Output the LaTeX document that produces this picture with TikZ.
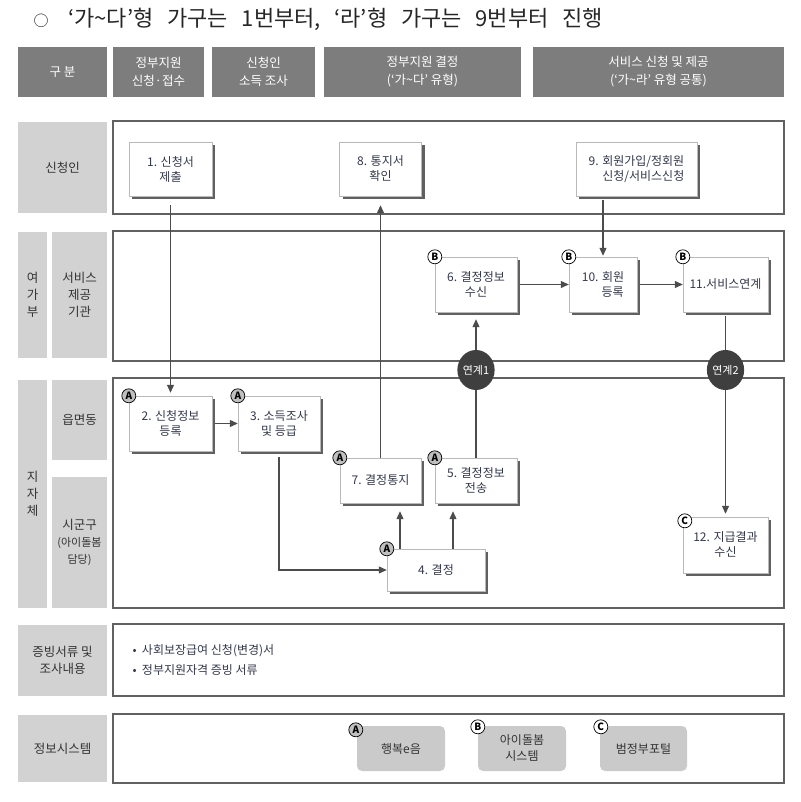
\documentclass[tikz,border=0pt]{standalone}
\usepackage{fontspec}
\setmainfont{Noto Sans CJK KR}
\newfontfamily\titlefont[WordSpace=2.8]{Noto Sans CJK KR}
\usepackage{xcolor}
\usepackage{tikz}
\usetikzlibrary{arrows.meta}
\usetikzlibrary{shapes.geometric}
\usetikzlibrary{shadows}
\definecolor{headgray}{HTML}{7D7D7D}
\definecolor{labelgray}{HTML}{D2D2D2}
\definecolor{boxtext}{HTML}{33384A}
\definecolor{linkgray}{HTML}{3F3F3F}
\definecolor{sysgray}{HTML}{CACACA}

\begin{document}
\begin{tikzpicture}[x=1pt, y=-1pt,
  headbox/.style={fill=headgray, text=white, align=center, inner sep=0pt, minimum height=50pt, font=\fontsize{12.5}{18}\selectfont},
  labelbox/.style={fill=labelgray, text=black!80, align=center, inner sep=0pt, font=\fontsize{12.5}{17}\selectfont},
  lane/.style={draw=black!62, line width=1.8pt},
  procbox/.style={draw=gray!55, fill=white, align=center, inner sep=0pt, text=boxtext, font=\fontsize{12}{15}\selectfont,
    drop shadow={shadow xshift=3pt, shadow yshift=-3pt, fill=gray!75!black, opacity=1}},
  sysbox/.style={fill=sysgray, rounded corners=5pt, align=center, inner sep=0pt, minimum width=88pt, minimum height=45pt, text=black!80, font=\fontsize{12}{16}\selectfont},
  badge/.style={circle, draw=black, line width=0.7pt, inner sep=0pt, minimum size=14pt, font=\fontsize{10}{10}\selectfont\bfseries},
  badgeA/.style={badge, fill=gray!50},
  badgeB/.style={badge, fill=white},
  linknode/.style={ellipse, fill=linkgray, text=white, inner sep=0pt, minimum width=36pt, minimum height=40pt, font=\fontsize{11}{11}\selectfont},
  flow/.style={draw=black!70, line width=1.1pt, -{Triangle[length=8pt,width=7pt]}},
  plainline/.style={draw=black!70, line width=1.1pt}]
  \useasboundingbox (0,0) rectangle (800,802);

  % title
  \node[anchor=west, font=\titlefont\fontsize{22}{22}\selectfont, text=black!85] (title) at (30,19) {{\fontsize{15}{15}\selectfont ○}\hspace{6pt} ‘가\char"007E다’형 가구는 1번부터, ‘라’형 가구는 9번부터 진행};

  % header row
  \node[headbox, minimum width=89pt] (hd0) at (62.5,72) {구 분};
  \node[headbox, minimum width=91pt] (hd1) at (158.5,72) {정부지원\\신청·접수};
  \node[headbox, minimum width=103pt] (hd2) at (263.5,72) {신청인\\소득 조사};
  \node[headbox, minimum width=197pt] (hd3) at (422.5,72) {정부지원 결정\\(‘가\char"007E다’ 유형)};
  \node[headbox, minimum width=251pt] (hd4) at (658.5,72) {서비스 신청 및 제공\\(‘가\char"007E라’ 유형 공통)};

  % row labels
  \node[labelbox, minimum width=89pt, minimum height=91pt] (lb1) at (62.5,167.5) {신청인};
  \node[labelbox, minimum width=29pt, minimum height=126pt] (lb2) at (32.5,295) {여\\가\\부};
  \node[labelbox, minimum width=55pt, minimum height=126pt] (lb3) at (79.5,295) {서비스\\제공\\기관};
  \node[labelbox, minimum width=29pt, minimum height=228pt] (lb4) at (32.5,494) {지\\자\\체};
  \node[labelbox, minimum width=55pt, minimum height=80pt] (lb5) at (79.5,420) {읍면동};
  \node[labelbox, minimum width=55pt, minimum height=131pt] (lb6) at (79.5,542.5) {시군구\\{\fontsize{11}{16}\selectfont(아이돌봄}\\{\fontsize{11}{16}\selectfont 담당)}};
  \node[labelbox, minimum width=89pt, minimum height=71pt] (lb7) at (62.5,660.5) {증빙서류 및\\조사내용};
  \node[labelbox, minimum width=89pt, minimum height=67pt] (lb8) at (62.5,748.5) {정보시스템};

  % lanes
  \foreach \ya/\yb in {121/214, 231/361, 378/608, 624/696, 714/783}
    \draw[lane] (113,\ya) rectangle (784,\yb);

  % steps
  \node[procbox, minimum width=83pt, minimum height=54pt] (s1) at (170.5,169) {1. 신청서\\제출};
  \node[procbox, minimum width=82pt, minimum height=54pt] (s8) at (380.5,169) {8. 통지서\\확인};
  \node[procbox, minimum width=121pt, minimum height=54pt, align=right] (s9) at (636.5,169) {9. 회원가입/정회원\\신청/서비스신청};
  \node[procbox, minimum width=82pt, minimum height=55pt] (s6) at (476,284.5) {6. 결정정보\\수신};
  \node[procbox, minimum width=68pt, minimum height=55pt] (s10) at (603,284.5) {10. 회원\\\phantom{10.~}등록};
  \node[procbox, minimum width=85pt, minimum height=55pt] (s11) at (725.5,284.5) {11.서비스연계};
  \node[procbox, minimum width=83pt, minimum height=55pt] (s2) at (170.5,423.5) {2. 신청정보\\등록};
  \node[procbox, minimum width=82pt, minimum height=55pt] (s3) at (279,423.5) {3. 소득조사\\및 등급};
  \node[procbox, minimum width=81pt, minimum height=45pt] (s7) at (380.5,480.5) {7. 결정통지};
  \node[procbox, minimum width=82pt, minimum height=45pt] (s5) at (476,480.5) {5. 결정정보\\전송};
  \node[procbox, minimum width=98pt, minimum height=42pt] (s4) at (436,570) {4. 결정};
  \node[procbox, minimum width=85pt, minimum height=56pt] (s12) at (725.5,545) {12. 지급결과\\수신};

  % links between systems
  \node[linknode] (link1) at (476,370) {연계1};
  \node[linknode] (link2) at (725.5,370) {연계2};

  % flow
  \coordinate (d7) at ([xshift=-36pt]s4.north);
  \coordinate (d5) at ([xshift=17pt]s4.north);
  \draw[flow, shorten <=9pt, shorten >=3pt] (s1.south) -- (s2.north);
  \draw[flow, shorten <=3pt] (s2.east) -- (s3.west);
  \draw[flow, shorten <=6pt] (s3.south) |- (s4.west);
  \draw[flow, shorten >=8pt] (d7) -- (d7 |- s7.south);
  \draw[flow, shorten >=8pt] (d5) -- (d5 |- s5.south);
  \draw[plainline] (s5.north) -- (link1.south);
  \draw[flow, shorten >=7pt] (link1.north) -- (s6.south);
  \draw[flow, shorten >=9pt] (s7.north) -- (s8.south);
  \draw[flow, shorten <=3pt] (s6.east) -- (s10.west);
  \draw[flow, shorten <=3pt] (s10.east) -- (s11.west);
  \draw[flow, shorten <=4pt, shorten >=1pt] (s9.south -| s10.north) -- (s10.north);
  \draw[plainline, shorten <=4pt] (s11.south) -- (link2.north);
  \draw[flow, shorten >=3pt] (link2.south) -- (s12.north);

  % system badges on steps
  \node[badgeA] (bA2) at (s2.north west) {A};
  \node[badgeA] (bA3) at (s3.north west) {A};
  \node[badgeA] (bA7) at (s7.north west) {A};
  \node[badgeA] (bA5) at (s5.north west) {A};
  \node[badgeA] (bA4) at (s4.north west) {A};
  \node[badgeB] (bB6) at (s6.north west) {B};
  \node[badgeB] (bB10) at (s10.north west) {B};
  \node[badgeB] (bB11) at (s11.north west) {B};
  \node[badgeB] (bC12) at ([xshift=2pt, yshift=-4pt]s12.north west) {C};

  % documents
  \node[anchor=west, align=left, text=boxtext, font=\fontsize{12}{20}\selectfont] (docs) at (129,660) {•~ 사회보장급여 신청(변경)서\\•~ 정부지원자격 증빙 서류};

  % information systems
  \node[sysbox] (sysA) at (401,748.5) {행복e음};
  \node[sysbox] (sysB) at (522,748.5) {아이돌봄\\시스템};
  \node[sysbox, minimum width=87pt] (sysC) at (643.5,748.5) {범정부포털};
  \node[badgeA] (bsA) at ([xshift=-1pt, yshift=-4pt]sysA.north west) {A};
  \node[badgeB] (bsB) at ([yshift=-1pt]sysB.north west) {B};
  \node[badgeB] (bsC) at ([xshift=1pt, yshift=-1pt]sysC.north west) {C};
\end{tikzpicture}
\end{document}
